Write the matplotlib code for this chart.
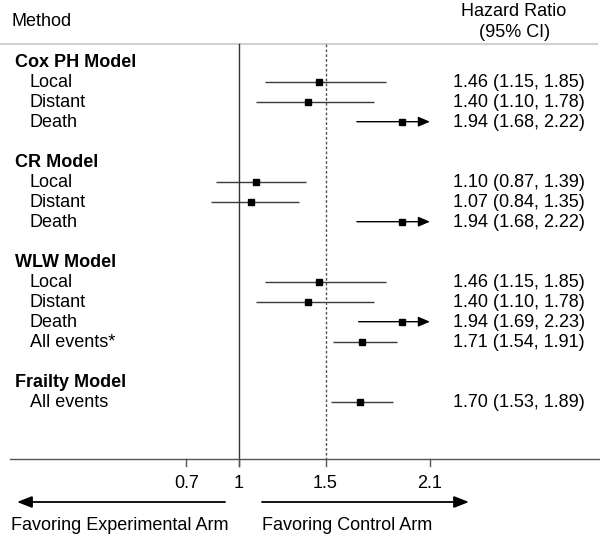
import matplotlib
matplotlib.use("Agg")
import matplotlib.pyplot as plt

plt.rcParams['font.family'] = ['Liberation Sans', 'DejaVu Sans']

# ---- data ----
group_names = ["Cox PH Model", "CR Model", "WLW Model", "Frailty Model"]

cox_labels = ["Local", "Distant", "Death"]
cox_hr = [1.46, 1.40, 1.94]
cox_lo = [1.15, 1.10, 1.68]
cox_hi = [1.85, 1.78, 2.22]

cr_labels = ["Local", "Distant", "Death"]
cr_hr = [1.10, 1.07, 1.94]
cr_lo = [0.87, 0.84, 1.68]
cr_hi = [1.39, 1.35, 2.22]

wlw_labels = ["Local", "Distant", "Death", "All events*"]
wlw_hr = [1.46, 1.40, 1.94, 1.71]
wlw_lo = [1.15, 1.10, 1.69, 1.54]
wlw_hi = [1.85, 1.78, 2.23, 1.91]

frailty_labels = ["All events"]
frailty_hr = [1.70]
frailty_lo = [1.53]
frailty_hi = [1.89]

xticks = [0.7, 1, 1.5, 2.1]
xtick_labels = ["0.7", "1", "1.5", "2.1"]
null_value = 1
ref_value = 1.5

groups = [
    (group_names[0], cox_labels, cox_hr, cox_lo, cox_hi),
    (group_names[1], cr_labels, cr_hr, cr_lo, cr_hi),
    (group_names[2], wlw_labels, wlw_hr, wlw_lo, wlw_hi),
    (group_names[3], frailty_labels, frailty_hr, frailty_lo, frailty_hi),
]

# ---- figure ----
fig = plt.figure(figsize=(6, 5.37), dpi=100)
ax = fig.add_axes([0, 0, 1, 1])
X0 = -0.371
ax.set_xlim(X0, 3.0773)
# y in row units: row r sits at pixel 61.7 + 20 r
def rpx(p):
    return (p - 61.7) / 20.0
def px(p):
    return X0 + p / 174.0
ax.set_ylim(rpx(537), rpx(0))
ax.axis("off")

FS = 13
TOFF = 0.06  # small downward nudge for visual centring of text
line_col = "#3a3a3a"
xmax = xticks[-1]
label_x = px(15)
item_x = px(30)
text_x = px(453)

r = 0
for gname, labels, hrs, los, his in groups:
    ax.text(label_x, r + TOFF, gname, fontsize=FS, fontweight="bold", va="center", ha="left")
    r += 1
    for lab, hr, lo, hi in zip(labels, hrs, los, his):
        ax.text(item_x, r + TOFF, lab, fontsize=FS, va="center", ha="left")
        if hi > xmax:
            ax.annotate("", xy=(xmax, r), xytext=(lo, r),
                        arrowprops=dict(arrowstyle="-|>,head_length=0.7,head_width=0.3",
                                        color="black", lw=1.0, shrinkA=0, shrinkB=0))
        else:
            ax.plot([lo, hi], [r, r], color=line_col, lw=1.0, solid_capstyle="butt")
        ax.plot([hr], [r], marker="s", markersize=5, color="black", zorder=5)
        ax.text(text_x, r + TOFF, f"{hr:.2f} ({lo:.2f}, {hi:.2f})", fontsize=FS, va="center", ha="left")
        r += 1
    r += 1

# header
ax.text(px(12), rpx(21), "Method", fontsize=FS, va="center", ha="left")
ax.text(px(514), rpx(11), "Hazard Ratio", fontsize=FS, va="center", ha="center")
ax.text(px(515), rpx(32), "(95% CI)", fontsize=FS, va="center", ha="center")
ax.plot([px(0), px(597)], [rpx(43.5), rpx(43.5)], color="#d0d0d0", lw=1.5)

# reference lines
ax.plot([null_value, null_value], [rpx(44), rpx(466)], color="#333333", lw=1.0)
ax.plot([ref_value, ref_value], [rpx(44), rpx(459)], color="#555555", lw=1.0,
        linestyle=(0, (2, 1.5)))

# axis
ax.plot([px(10), px(600)], [rpx(459), rpx(459)], color="#555555", lw=1.0)
for t, tl in zip(xticks, xtick_labels):
    ax.plot([t, t], [rpx(459), rpx(466)], color="#555555", lw=1.0)
    ax.text(t, rpx(483), tl, fontsize=FS, va="center", ha="center")

# favoring arrows
ya = rpx(502)
ax.annotate("", xy=(px(17), ya), xytext=(px(225), ya),
            arrowprops=dict(arrowstyle="-|>,head_length=0.9,head_width=0.35",
                            color="black", lw=1.3, shrinkA=0, shrinkB=0))
ax.annotate("", xy=(px(469), ya), xytext=(px(262), ya),
            arrowprops=dict(arrowstyle="-|>,head_length=0.9,head_width=0.35",
                            color="black", lw=1.3, shrinkA=0, shrinkB=0))
ax.text(px(11), rpx(526), "Favoring Experimental Arm", fontsize=FS, va="center", ha="left")
ax.text(px(262), rpx(526), "Favoring Control Arm", fontsize=FS, va="center", ha="left")

fig.savefig("out.png", dpi=100)
